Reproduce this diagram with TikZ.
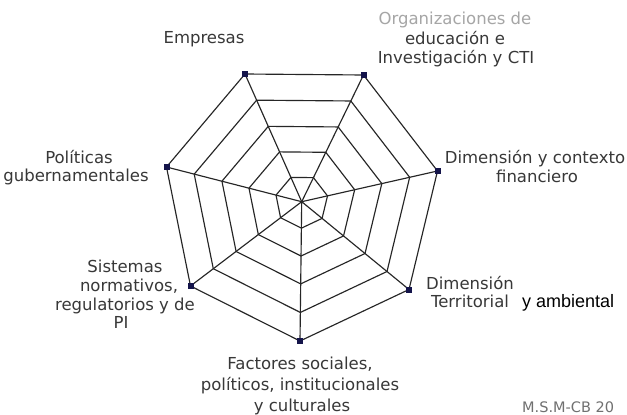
\documentclass[tikz,border=0pt]{standalone}
\usepackage{fontspec}
\setmainfont{DejaVu Sans}
\newfontfamily\arialfont{Liberation Sans}
\usetikzlibrary{calc}
\definecolor{lbl}{HTML}{383838}
\definecolor{lightlbl}{HTML}{A6A6A6}
\definecolor{navy}{HTML}{14144A}
\definecolor{signc}{HTML}{707070}
\begin{document}
\begin{tikzpicture}[x=1pt,y=-1pt,
  web/.style={draw=black!85,line width=1.15pt,line join=round},
  lab/.style={text=lbl,font=\fontsize{16.5}{19}\selectfont,inner sep=0pt,anchor=base},
  labbig/.style={lab,font=\fontsize{16.5}{21}\selectfont},
  mk/.style={fill=navy,minimum size=6pt,inner sep=0pt,draw=none}]
\useasboundingbox (0,0) rectangle (627,415);
\fill[white] (0,0) rectangle (627,415);
% centre and outer vertices
\coordinate (C) at (301.7,201.7);
\coordinate (a1) at (245,74);
\coordinate (a2) at (363.5,75);
\coordinate (a3) at (437.5,171);
\coordinate (a4) at (409,289.5);
\coordinate (a5) at (300,341);
\coordinate (a6) at (190.5,286);
\coordinate (a7) at (166.5,167);
% rings
\foreach \f in {0.19,0.39,0.59,0.795,1}{
  \draw[web] ($(C)!\f!(a1)$) -- ($(C)!\f!(a2)$) -- ($(C)!\f!(a3)$) -- ($(C)!\f!(a4)$)
    -- ($(C)!\f!(a5)$) -- ($(C)!\f!(a6)$) -- ($(C)!\f!(a7)$) -- cycle;
}
% spokes
\foreach \i in {1,...,7}{ \draw[web] (C) -- (a\i); }
% vertex markers
\foreach \i in {1,...,7}{ \node[mk] (m\i) at (a\i) {}; }
% labels
\node[lab] (emp) at (204,43) {Empresas};
\node[lab,text=lightlbl] (org1) at (455,24) {Organizaciones de};
\node[lab] (org2) at (455,44) {educación e};
\node[lab] (org3) at (456,63) {Investigación y CTI};
\node[lab] (fin1) at (535,163) {Dimensión y contexto};
\node[lab] (fin2) at (537,182) {financiero};
\node[lab] (ter1) at (470,289) {Dimensión};
\node[lab] (ter2) at (470,307) {Territorial};
\node[anchor=base west,inner sep=0pt,font=\arialfont\fontsize{18}{20}\selectfont,text=black] (amb) at (522,307) {y ambiental};
\node[labbig] (fac1) at (300,369) {Factores sociales,};
\node[labbig] (fac2) at (300,390) {políticos, institucionales};
\node[labbig] (fac3) at (302,411) {y culturales};
\node[lab] (sis1) at (125,272) {Sistemas};
\node[lab] (sis2) at (129,291) {normativos,};
\node[lab] (sis3) at (125,310) {regulatorios y de};
\node[lab] (sis4) at (121,328) {PI};
\node[lab] (pol1) at (79,163) {Políticas};
\node[lab] (pol2) at (76,181) {gubernamentales};
\node[anchor=base west,inner sep=0pt,font=\fontsize{14.5}{16}\selectfont,text=signc] (sig) at (522,412) {M.S.M-CB 20};
\end{tikzpicture}
\end{document}
